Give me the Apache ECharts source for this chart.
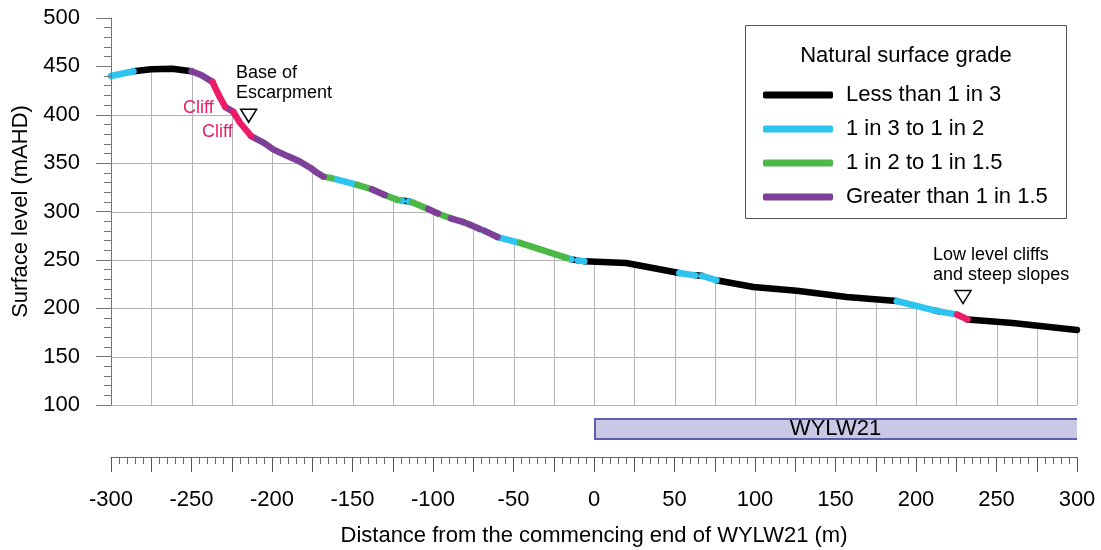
<!DOCTYPE html>
<html>
<head>
<meta charset="utf-8">
<script src="https://cdn.jsdelivr.net/npm/echarts@6/dist/echarts.min.js"></script>
<style>html,body{margin:0;padding:0;background:#fff;}#c{width:1101px;height:550px;}</style>
</head>
<body>
<div id="c"></div>
<script>
// ---- data ----
const distances = [-300,-286,-275,-262,-250,-244,-237,-233,-229,-224,-220,-213,-205,-199,-190,-183,-176,-172,-168,-163,-147,-138,-130,-122,-119,-115,-113,-103,-97,-89,-81,-78,-71,-68,-60,-46,-17,-14,-10,-6,20,53,63,67,76,99,126,157,188,212,214,225.5,232,260,300];
const elevations = [440,445,447,447.5,445,441,434,420,408,403,392,378,371,364,357,352,345,340,336,334.5,327.5,323,317,312,311,310.5,309.5,302.6,298,293,289,287,282,280,273.6,267.5,252,250.5,249.5,248.5,246.8,236.5,234,233.5,229,222,218,211.6,207.5,197.5,196.8,193.5,188.4,184.7,177.5];
// grade class of each segment (from point i to point i+1)
const segmentGrades = ['A','L','L','L','G','G','C','C','G','C','C','G','G','G','G','G','G','G','B','A','B','G','B','A','L','A','B','G','B','G','B','G','A','G','A','B','A','L','A','L','L','A','L','A','L','L','L','L','A','L','A','C','L','L'];
const gradeCodes = ['L','A','B','G','C'];
const gradeNames = ['Less than 1 in 3','1 in 3 to 1 in 2','1 in 2 to 1 in 1.5','Greater than 1 in 1.5','Cliff'];
const gradeColors = ['#000000','#2ec4f0','#4cb848','#7d3f98','#ec1c66'];
const legendNames = ['Less than 1 in 3','1 in 3 to 1 in 2','1 in 2 to 1 in 1.5','Greater than 1 in 1.5'];
const xRange = [-300, 300];
const yRange = [100, 500];
const xGridStep = 25;
const yGridStep = 50;
const xLabelStep = 50;
const structureName = 'WYLW21';
const structureExtent = [0, 300];
const noteTexts = ['Base of\nEscarpment','Cliff','Cliff','Low level cliffs\nand steep slopes'];
const noteX = [-222.4,-245.7,-233.9,210.6];
const noteY = [432.8,407,382.2,244.7];
const markerX = [-214.5, 229.2];
const markerY = [399, 211.6];

// ---- build ----
const FONT = 'Liberation Sans, Arial, sans-serif';
function gradeSeriesData(code){
  const out = [];
  let prev = false;
  for (let i = 0; i < segmentGrades.length; i++){
    if (segmentGrades[i] === code){
      if (!prev){
        if (out.length) out.push([distances[i], null]);
        out.push([distances[i], elevations[i]]);
      }
      out.push([distances[i+1], elevations[i+1]]);
      prev = true;
    } else prev = false;
  }
  return out;
}
function profileAt(x){
  for (let i = 0; i < distances.length - 1; i++){
    if (x >= distances[i] && x <= distances[i+1]){
      const t = (x - distances[i]) / (distances[i+1] - distances[i]);
      return elevations[i] + t * (elevations[i+1] - elevations[i]);
    }
  }
  return null;
}
// parts of a horizontal level that lie beneath the ground surface
function belowRuns(level){
  const runs = [];
  let start = null;
  for (let i = 0; i < distances.length - 1; i++){
    const x0 = distances[i], x1 = distances[i+1], e0 = elevations[i], e1 = elevations[i+1];
    const in0 = e0 >= level, in1 = e1 >= level;
    if (in0 && start === null) start = x0;
    if (in0 !== in1){
      const xc = x0 + (level - e0) / (e1 - e0) * (x1 - x0);
      if (in0){ runs.push([start, xc]); start = null; }
      else { start = xc; }
    }
  }
  if (start !== null) runs.push([start, distances[distances.length-1]]);
  return runs;
}

const GRID_COLOR = '#b4b4b4';
const NO_LINE = {show:false, lineStyle:{color:'rgba(0,0,0,0)', opacity:0, width:0}};
const series = [];
// sky cover, grid beneath the ground, annotations, markers and the structure bar
series.push({
  type:'custom', name:'_grid', xAxisIndex:0, yAxisIndex:0, silent:true, z:2, clip:false,
  data:[[0]],
  renderItem:function(params, api){
    const children = [];
    const crisp = v => Math.round(v) + 0.5;
    const sky = distances.map((d,i)=>api.coord([d, elevations[i]]));
    sky.push(api.coord([xRange[1], yRange[1]]));
    sky.push(api.coord([xRange[0], yRange[1]]));
    children.push({type:'polygon', shape:{points:sky}, style:{fill:'#ffffff', stroke:null}, z2:0});
    // bottom frame line of the section
    const b0 = api.coord([xRange[0], yRange[0]]), b1 = api.coord([xRange[1], yRange[0]]);
    children.push({type:'line', z2:5, shape:{x1:b0[0], y1:crisp(b0[1]), x2:b1[0], y2:crisp(b0[1])}, style:{stroke:GRID_COLOR, lineWidth:1}});
    for (let x = xRange[0] + xGridStep; x <= xRange[1]; x += xGridStep){
      const top = profileAt(x);
      if (top === null) continue;
      const p0 = api.coord([x, yRange[0]]), p1 = api.coord([x, top]);
      const cx = crisp(p0[0]);
      children.push({type:'line', z2:5, shape:{x1:cx, y1:p0[1], x2:cx, y2:p1[1]}, style:{stroke:GRID_COLOR, lineWidth:1}});
    }
    for (let y = yRange[0] + yGridStep; y < yRange[1]; y += yGridStep){
      belowRuns(y).forEach(r=>{
        const p0 = api.coord([r[0], y]), p1 = api.coord([r[1], y]);
        const cy = crisp(p0[1]);
        children.push({type:'line', z2:5, shape:{x1:p0[0], y1:cy, x2:p1[0], y2:cy}, style:{stroke:GRID_COLOR, lineWidth:1}});
      });
    }
    noteTexts.forEach((t,i)=>{
      const p = api.coord([noteX[i], noteY[i]]);
      const pink = (i===1||i===2);
      children.push({type:'text', x:p[0], y:p[1], z2:50,
        style:{text:t, fontSize:18, lineHeight:20, fontFamily:FONT,
          fill: pink ? '#ec1c66' : '#000',
          align: pink ? 'center' : 'left', verticalAlign:'middle'}});
    });
    markerX.forEach((mx,i)=>{
      const p = api.coord([mx, markerY[i]]);
      children.push({type:'polygon', z2:50,
        shape:{points:[[p[0]-8, p[1]-6.5],[p[0]+8, p[1]-6.5],[p[0], p[1]+6.5]]},
        style:{fill:'#fff', stroke:'#000', lineWidth:1.5}});
    });
    const base = api.coord([structureExtent[0], yRange[0]]);
    const end = api.coord([structureExtent[1], yRange[0]]);
    const bx0 = base[0], bx1 = end[0], by0 = base[1] + 13, by1 = base[1] + 35;
    children.push({type:'rect', z2:10, shape:{x:bx0, y:by0, width:bx1-bx0, height:by1-by0},
      style:{fill:'#c9c9e6', stroke:null},
      textContent:{style:{text:structureName, fontSize:22, fontFamily:FONT, fill:'#000'}},
      textConfig:{position:'inside'}});
    children.push({type:'polyline', z2:11, shape:{points:[[bx1,by0+1],[bx0+1,by0+1],[bx0+1,by1-1],[bx1,by1-1]]},
      style:{fill:null, stroke:'#5b5fae', lineWidth:2}});
    return {type:'group', children:children};
  }
});
gradeCodes.forEach((code, k)=>{
  series.push({
    type:'line', name: gradeNames[k], data: gradeSeriesData(code),
    xAxisIndex:0, yAxisIndex:0, showSymbol:false, silent:true, z:3,
    connectNulls:false,
    color: gradeColors[k],
    itemStyle:{color: gradeColors[k]},
    lineStyle:{color: gradeColors[k], width:6.5, cap:'round', join:'round'}
  });
});

const option = {
  backgroundColor:'#fff',
  animation:false,
  textStyle:{fontFamily:FONT},
  grid:[
    {left:111, right:24, top:18, bottom:145, containLabel:false, show:false, borderWidth:0},
    {left:111, right:24, top:418, height:39, containLabel:false, show:false, borderWidth:0}
  ],
  xAxis:[
    {type:'value', gridIndex:0, min:xRange[0], max:xRange[1], interval:xGridStep, show:false,
     axisLine:{show:false}, axisTick:{show:false}, axisLabel:{show:false},
     splitLine:NO_LINE, minorSplitLine:NO_LINE, splitArea:{show:false}},
    {type:'value', gridIndex:1, min:xRange[0], max:xRange[1], interval:xGridStep, position:'bottom',
     axisLine:{show:true, onZero:false, lineStyle:{color:'#666', width:1}},
     axisTick:{show:true, length:15, lineStyle:{color:'#555'}},
     minorTick:{show:true, splitNumber:5, length:7, lineStyle:{color:'#666'}},
     axisLabel:{fontSize:22, color:'#000', margin:32, fontFamily:FONT,
       formatter:function(v){ return (Math.round(v) % xLabelStep === 0) ? String(v) : ''; }},
     splitLine:NO_LINE, minorSplitLine:NO_LINE,
     name:'Distance from the commencing end of WYLW21 (m)', nameLocation:'middle', nameGap:68,
     nameTextStyle:{fontSize:22, color:'#000', fontFamily:FONT}}
  ],
  yAxis:[
    {type:'value', gridIndex:0, min:yRange[0], max:yRange[1], interval:yGridStep, show:false, splitLine:NO_LINE, minorSplitLine:NO_LINE},
    {type:'value', gridIndex:0, min:yRange[0], max:yRange[1], interval:yGridStep, position:'left', z:10,
     axisLine:{show:true, onZero:false, lineStyle:{color:'#777', width:1}},
     axisTick:{show:true, length:15, lineStyle:{color:'#777'}},
     minorTick:{show:true, splitNumber:5, length:7, lineStyle:{color:'#777'}},
     axisLabel:{fontSize:22, color:'#000', margin:31, fontFamily:FONT},
     splitLine:NO_LINE, minorSplitLine:NO_LINE,
     name:'Surface level (mAHD)', nameLocation:'middle', nameGap:78,
     nameTextStyle:{fontSize:22, color:'#000', fontFamily:FONT}},
    {type:'value', gridIndex:1, min:0, max:1, show:false, splitLine:NO_LINE, minorSplitLine:NO_LINE}
  ],
  legend:{
    data: legendNames, orient:'vertical', left:758, top:79,
    itemWidth:70, itemHeight:7, itemGap:12, icon:'roundRect',
    textStyle:{fontSize:22, color:'#000', fontFamily:FONT, lineHeight:22, padding:[0,0,0,8]},
    selectedMode:false, z:20
  },
  graphic:[
    {type:'rect', shape:{x:745.5, y:25.5, width:321, height:193},
     style:{fill:'#fff', stroke:'#555', lineWidth:1}, z:15},
    {type:'text', x:906, y:56, z:16,
     style:{text:'Natural surface grade', fontSize:22, fontFamily:FONT, fill:'#000', align:'center', verticalAlign:'middle'}}
  ],
  series: series
};
const chart = echarts.init(document.getElementById('c'), null, {renderer:'canvas'});
chart.setOption(option);
</script>
</body>
</html>
